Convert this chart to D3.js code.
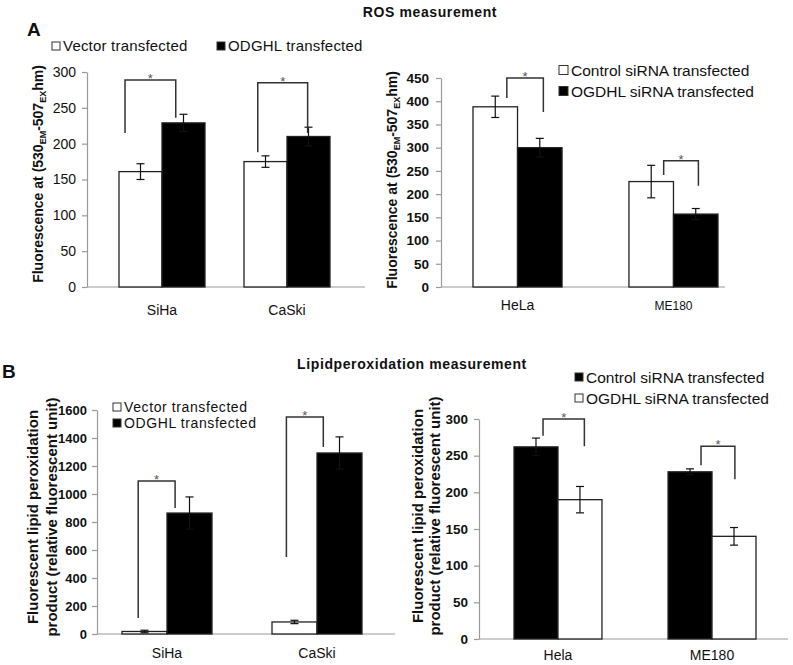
<!DOCTYPE html>
<html><head><meta charset="utf-8">
<script src="https://cdn.jsdelivr.net/npm/d3@7"></script>
<style>
html,body{margin:0;padding:0;background:#fff;}
svg text{font-family:"Liberation Sans",Arial,sans-serif;}
</style></head>
<body>
<svg id="c" width="793" height="665"></svg>
<script>
// ---------- DATA ----------
// Panel A left: ROS, cervical lines, overexpression
const rosCervCats = ["SiHa", "CaSki"];
const rosVector = [161, 175];
const rosVectorErr = [11, 8];
const rosOdghl = [229, 210];
const rosOdghlErr = [12, 13];
const rosCervBrackets = [[215, 289, 236], [188, 285, 215]];
const rosCervTicks = [0, 50, 100, 150, 200, 250, 300];

// Panel A right: ROS, siRNA
const rosSiCats = ["HeLa", "ME180"];
const rosCtrl = [388, 227];
const rosCtrlErr = [23, 35];
const rosOgdhl = [300, 157];
const rosOgdhlErr = [20, 12];
const rosSiBrackets = [[407, 450, 377], [241, 272, 218]];
const rosSiTicks = [0, 50, 100, 150, 200, 250, 300, 350, 400, 450];

// Panel B left: lipid peroxidation, overexpression
const lipCervCats = ["SiHa", "CaSki"];
const lipVector = [18, 86];
const lipVectorErr = [9, 12];
const lipOdghl = [864, 1293];
const lipOdghlErr = [115, 115];
const lipCervBrackets = [[114, 1093, 900], [550, 1550, 1336]];
const lipCervTicks = [0, 200, 400, 600, 800, 1000, 1200, 1400, 1600];

// Panel B right: lipid peroxidation, siRNA
const lipSiCats = ["Hela", "ME180"];
const lipCtrl = [262, 228];
const lipCtrlErr = [12, 4];
const lipOgdhl = [190, 140];
const lipOgdhlErr = [18, 12];
const lipSiBrackets = [[277, 300, 263], [237, 263, 218]];
const lipSiTicks = [0, 50, 100, 150, 200, 250, 300];

// ---------- DRAW ----------
const svg = d3.select("#c");

function drawPanel(cfg) {
  const g = svg.append("g");
  const y = d3.scaleLinear().domain([0, cfg.yMax]).range(cfg.yRange);
  const x = d3.scaleBand().domain(cfg.cats).range(cfg.bandRange).paddingInner(cfg.padInner).paddingOuter(0);
  const sub = d3.scaleBand().domain(cfg.series.map(s => s.key)).range([0, x.bandwidth()]);

  // y axis
  const ya = g.append("g").attr("transform", `translate(${cfg.axisX[0]},0)`)
    .call(d3.axisLeft(y).tickValues(cfg.ticks).tickFormat(d3.format("d")).tickSize(5).tickPadding(cfg.tickPad).tickSizeOuter(0));
  ya.select(".domain").attr("stroke", "#9a9a9a").attr("stroke-width", 1.2);
  ya.selectAll(".tick line").attr("stroke", "#9a9a9a").attr("stroke-width", 1.2);
  ya.selectAll(".tick text").attr("fill", "#111").style("font-size", cfg.tickSize + "px")
    .style("font-weight", cfg.tickBold ? "bold" : "normal").style("font-family", '"Liberation Sans",Arial,sans-serif');

  // x axis line
  g.append("line").attr("x1", cfg.axisX[0]).attr("x2", cfg.axisX[1])
    .attr("y1", y(0)).attr("y2", y(0)).attr("stroke", "#9a9a9a").attr("stroke-width", 1.2);

  // bars
  cfg.series.forEach(s => {
    g.selectAll(null).data(cfg.cats).enter().append("rect")
      .attr("x", c => x(c) + sub(s.key))
      .attr("y", (c, i) => y(s.values[i]))
      .attr("width", sub.bandwidth())
      .attr("height", (c, i) => y(0) - y(s.values[i]))
      .attr("fill", s.fill).attr("stroke", "#222").attr("stroke-width", 1.3);
  });
  // error bars
  cfg.series.forEach(s => {
    cfg.cats.forEach((c, i) => {
      const cx = x(c) + sub(s.key) + sub.bandwidth() / 2;
      const hi = y(s.values[i] + s.errors[i]), lo = y(s.values[i] - s.errors[i]);
      const col = "#111";
      g.append("line").attr("x1", cx).attr("x2", cx).attr("y1", hi).attr("y2", lo).attr("stroke", col).attr("stroke-width", 1.2);
      [hi, lo].forEach(v => g.append("line").attr("x1", cx - 4).attr("x2", cx + 4).attr("y1", v).attr("y2", v).attr("stroke", col).attr("stroke-width", 1.2));
    });
  });
  // significance brackets
  cfg.cats.forEach((c, i) => {
    const b = cfg.brackets[i];
    const f = cfg.bracketFrac[i];
    const xl = x(c) + f[0] * x.bandwidth(), xr = x(c) + f[1] * x.bandwidth();
    g.append("path").attr("d", `M${xl},${y(b[0])}V${y(b[1])}H${xr}V${y(b[2])}`)
      .attr("fill", "none").attr("stroke", "#333").attr("stroke-width", 1.5);
    g.append("text").attr("x", (xl + xr) / 2).attr("y", y(b[1]) + 3).attr("text-anchor", "middle")
      .style("font-size", "13px").attr("fill", "#555").text("*");
  });
  // category labels
  g.selectAll(null).data(cfg.cats).enter().append("text")
    .attr("x", c => x(c) + x.bandwidth() / 2).attr("y", cfg.catY).attr("text-anchor", "middle")
    .style("font-size", (c, i) => (cfg.catSizes ? cfg.catSizes[i] : 14) + "px").attr("fill", "#111").text(c => c);
  // legend
  cfg.series.forEach((s, i) => {
    const L = cfg.legend[i];
    g.append("rect").attr("x", L[0]).attr("y", L[1] - L[3] / 2).attr("width", L[3]).attr("height", L[3])
      .attr("fill", s.fill).attr("stroke", "#333").attr("stroke-width", 1);
    g.append("text").attr("x", L[0] + L[3] + 3).attr("y", L[1]).attr("dy", "0.36em")
      .style("font-size", cfg.legendSize + "px").attr("fill", "#111")
      .style("letter-spacing", cfg.legendSpacing || "0px").text(s.name);
  });
  return {x, y};
}

function yTitleROS(cx, cy) {
  const t = svg.append("text").attr("transform", `translate(${cx},${cy}) rotate(-90)`)
    .attr("text-anchor", "middle").attr("dy", "0.35em")
    .style("font-size", "14px").style("font-weight", "bold").attr("fill", "#111");
  t.append("tspan").text("Fluorescence at (530");
  t.append("tspan").attr("dy", 3).style("font-size", "9px").text("EM");
  t.append("tspan").attr("dy", -3).text("-507");
  t.append("tspan").attr("dy", 3).style("font-size", "9px").text("EX");
  t.append("tspan").attr("dy", -3).text("hm)");
}
function yTitleLip(x1, x2, cy) {
  [["Fluorescent lipid peroxidation", x1], ["product (relative fluorescent unit)", x2]].forEach(([s, cx]) => {
    svg.append("text").attr("transform", `translate(${cx},${cy}) rotate(-90)`)
      .attr("text-anchor", "middle").attr("dy", "0.35em")
      .style("font-size", "15px").style("font-weight", "bold").attr("fill", "#111").text(s);
  });
}

// Titles and panel letters
svg.append("text").attr("x", 430).attr("y", 17).attr("text-anchor", "middle")
  .style("font-size", "14px").style("font-weight", "bold").style("letter-spacing", "0.6px").attr("fill", "#111").text("ROS measurement");
svg.append("text").attr("x", 412).attr("y", 369).attr("text-anchor", "middle")
  .style("font-size", "14px").style("font-weight", "bold").style("letter-spacing", "0.6px").attr("fill", "#111").text("Lipidperoxidation measurement");
svg.append("text").attr("x", 27).attr("y", 36).style("font-size", "19px").style("font-weight", "bold").attr("fill", "#111").text("A");
svg.append("text").attr("x", 2).attr("y", 378).style("font-size", "19px").style("font-weight", "bold").attr("fill", "#111").text("B");

// Panel A left
drawPanel({
  cats: rosCervCats, yMax: 300, ticks: rosCervTicks, yRange: [287, 72],
  axisX: [87, 365], bandRange: [119, 330], padInner: 0.312, tickPad: 6, tickSize: 14, tickBold: false,
  series: [
    {key: "v", name: "Vector transfected", values: rosVector, errors: rosVectorErr, fill: "#fff"},
    {key: "o", name: "ODGHL transfected", values: rosOdghl, errors: rosOdghlErr, fill: "#000"}
  ],
  brackets: rosCervBrackets, bracketFrac: [[0.07, 0.66], [0.16, 0.74]],
  catY: 315, legend: [[52, 46, 0, 8], [217, 46, 0, 8]], legendSize: 15, legendSpacing: "0.2px"
});
yTitleROS(38, 174);

// Panel A right
drawPanel({
  cats: rosSiCats, yMax: 450, ticks: rosSiTicks, yRange: [287, 78],
  axisX: [441, 725], bandRange: [473, 718], padInner: 0.429, tickPad: 7, tickSize: 13.5, tickBold: true,
  series: [
    {key: "c", name: "Control siRNA transfected", values: rosCtrl, errors: rosCtrlErr, fill: "#fff"},
    {key: "o", name: "OGDHL siRNA transfected", values: rosOgdhl, errors: rosOgdhlErr, fill: "#000"}
  ],
  brackets: rosSiBrackets, bracketFrac: [[0.38, 0.79], [0.39, 0.78]],
  catY: 310, catSizes: [14, 12], legend: [[559, 70, 0, 9], [559, 91, 0, 9]], legendSize: 15.5
});
yTitleROS(392, 180);

// Panel B left
drawPanel({
  cats: lipCervCats, yMax: 1600, ticks: lipCervTicks, yRange: [634, 410],
  axisX: [97, 395], bandRange: [122, 362], padInner: 0.4, tickPad: 5, tickSize: 13, tickBold: true,
  series: [
    {key: "v", name: "Vector transfected", values: lipVector, errors: lipVectorErr, fill: "#fff"},
    {key: "o", name: "ODGHL transfected", values: lipOdghl, errors: lipOdghlErr, fill: "#000"}
  ],
  brackets: lipCervBrackets, bracketFrac: [[0.18, 0.59], [0.16, 0.57]],
  catY: 658, legend: [[113, 407, 0, 8], [113, 423, 0, 8]], legendSize: 14, legendSpacing: "0.6px"
});
yTitleLip(33, 52, 517);

// Panel B right
drawPanel({
  cats: lipSiCats, yMax: 300, ticks: lipSiTicks, yRange: [639, 419],
  axisX: [479, 788], bandRange: [514, 756], padInner: 0.429, tickPad: 6, tickSize: 13.5, tickBold: true,
  series: [
    {key: "c", name: "Control siRNA transfected", values: lipCtrl, errors: lipCtrlErr, fill: "#000"},
    {key: "o", name: "OGDHL siRNA transfected", values: lipOgdhl, errors: lipOgdhlErr, fill: "#fff"}
  ],
  brackets: lipSiBrackets, bracketFrac: [[0.33, 0.80], [0.375, 0.76]],
  catY: 660, legend: [[575, 377, 0, 8], [575, 398, 0, 8]], legendSize: 15.5
});
yTitleLip(418, 435, 516);
</script>
</body></html>
